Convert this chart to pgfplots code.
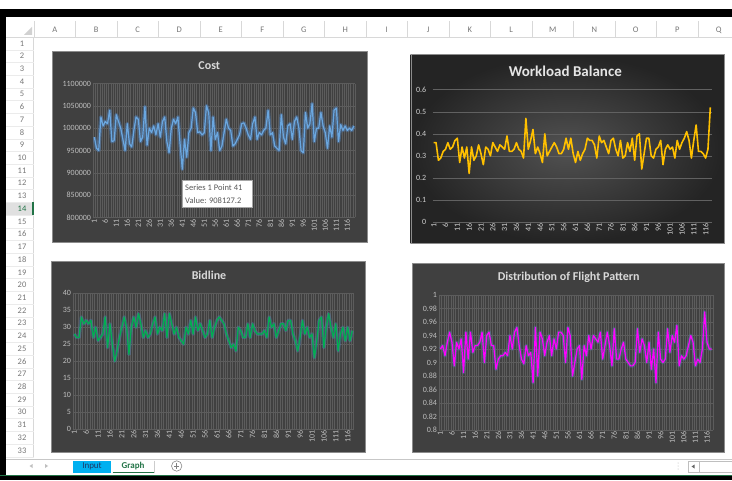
\documentclass[border=0pt]{standalone}
\usepackage{pgfplots}
\pgfplotsset{compat=1.18}
\usepackage{pgfplotstable}
\usepackage{fontspec}
\setmainfont{Carlito}
\definecolor{chartbg}{HTML}{404040}
\definecolor{gridc}{HTML}{5C5C5C}
\definecolor{tickc}{HTML}{BFBFBF}
\definecolor{titlec}{HTML}{D9D9D9}
\definecolor{costc}{HTML}{6AA7E0}
\definecolor{workc}{HTML}{FFC000}
\definecolor{bidc}{HTML}{00B050}
\definecolor{distc}{HTML}{FF00FF}
\definecolor{glowc}{HTML}{4F86C6}
\definecolor{hdrtext}{HTML}{777777}
\definecolor{hdrline}{HTML}{D8D8D8}
\definecolor{xlgreen}{HTML}{217346}
\definecolor{tabcyan}{HTML}{00B0F0}
\definecolor{navy}{HTML}{1F3864}

\pgfplotstableread[row sep=\\]{v\\
980000\\955000\\950000\\1025000\\1005000\\1015000\\1010000\\1040000\\970000\\972000\\
1030000\\1015000\\1000000\\975000\\950000\\1010000\\965000\\958000\\995000\\1025000\\
1020000\\970000\\980000\\1048000\\962000\\1000000\\990000\\1005000\\985000\\1010000\\
980000\\1015000\\1025000\\970000\\945000\\1000000\\1020000\\1010000\\1025000\\965000\\
908127.2\\975000\\935000\\990000\\1000000\\1045000\\1035000\\990000\\992000\\985000\\
990000\\1050000\\1035000\\950000\\1025000\\975000\\990000\\950000\\960000\\990000\\
1020000\\1000000\\995000\\960000\\965000\\975000\\985000\\1010000\\1012000\\1000000\\
985000\\975000\\1010000\\1025000\\975000\\990000\\985000\\995000\\1000000\\1040000\\
985000\\990000\\960000\\955000\\950000\\1030000\\980000\\965000\\1005000\\1010000\\
975000\\1015000\\1025000\\1000000\\950000\\945000\\1035000\\1000000\\1010000\\1055000\\
970000\\1000000\\1000000\\1035000\\1005000\\990000\\955000\\1005000\\980000\\1040000\\
1045000\\970000\\1008000\\995000\\1005000\\995000\\1000000\\995000\\1005000\\
}\costdata

\pgfplotstableread[row sep=\\]{v\\
0.36\\0.36\\0.28\\0.29\\0.32\\0.33\\0.36\\0.33\\0.34\\0.37\\
0.38\\0.27\\0.34\\0.29\\0.34\\0.22\\0.34\\0.28\\0.30\\0.35\\
0.31\\0.26\\0.34\\0.33\\0.30\\0.36\\0.34\\0.32\\0.35\\0.34\\
0.33\\0.39\\0.32\\0.32\\0.33\\0.36\\0.33\\0.32\\0.29\\0.47\\
0.33\\0.37\\0.42\\0.31\\0.34\\0.31\\0.27\\0.40\\0.30\\0.32\\
0.34\\0.36\\0.34\\0.31\\0.31\\0.33\\0.38\\0.33\\0.38\\0.31\\
0.27\\0.32\\0.28\\0.31\\0.33\\0.38\\0.37\\0.37\\0.35\\0.29\\
0.39\\0.36\\0.37\\0.34\\0.31\\0.37\\0.38\\0.33\\0.30\\0.37\\
0.29\\0.30\\0.36\\0.32\\0.38\\0.28\\0.39\\0.40\\0.24\\0.31\\
0.38\\0.38\\0.30\\0.29\\0.33\\0.34\\0.37\\0.26\\0.33\\0.35\\
0.33\\0.34\\0.29\\0.37\\0.33\\0.36\\0.38\\0.41\\0.37\\0.29\\
0.37\\0.44\\0.32\\0.32\\0.31\\0.29\\0.33\\0.52\\
}\workdata

\pgfplotstableread[row sep=\\]{v\\
28\\27\\27\\33\\31\\32\\31\\32\\27\\30\\
26\\27\\28\\33\\24\\31\\25\\20\\23\\27\\
30\\33\\30\\22\\30\\33\\30\\34\\31\\27\\
29\\27\\28\\31\\33\\28\\30\\29\\34\\27\\
34\\31\\28\\30\\27\\26\\25\\30\\28\\32\\
28\\33\\29\\31\\29\\27\\28\\32\\27\\30\\
32\\33\\32\\31\\28\\26\\24\\25\\23\\30\\
29\\27\\27\\31\\27\\31\\29\\28\\28\\28\\
29\\27\\33\\30\\31\\27\\29\\31\\31\\29\\
32\\32\\28\\26\\23\\27\\32\\28\\30\\27\\
28\\21\\26\\32\\33\\24\\30\\34\\30\\27\\
31\\23\\28\\30\\26\\30\\26\\29\\
}\biddata

\pgfplotstableread[row sep=\\]{v\\
0.92\\0.925\\0.91\\0.93\\0.945\\0.93\\0.895\\0.93\\0.92\\0.935\\
0.885\\0.945\\0.905\\0.945\\0.915\\0.925\\0.925\\0.93\\0.945\\0.90\\
0.94\\0.945\\0.925\\0.925\\0.89\\0.905\\0.91\\0.91\\0.915\\0.91\\
0.94\\0.92\\0.945\\0.952\\0.925\\0.905\\0.898\\0.925\\0.91\\0.915\\
0.87\\0.952\\0.88\\0.945\\0.935\\0.91\\0.93\\0.94\\0.91\\0.935\\
0.92\\0.945\\0.945\\0.94\\0.90\\0.952\\0.94\\0.88\\0.90\\0.92\\
0.925\\0.875\\0.925\\0.91\\0.94\\0.92\\0.94\\0.935\\0.93\\0.945\\
0.905\\0.925\\0.945\\0.925\\0.895\\0.95\\0.905\\0.905\\0.92\\0.93\\
0.905\\0.90\\0.895\\0.895\\0.90\\0.95\\0.915\\0.935\\0.925\\0.90\\
0.93\\0.89\\0.92\\0.87\\0.945\\0.905\\0.90\\0.905\\0.95\\0.915\\
0.94\\0.93\\0.955\\0.895\\0.91\\0.905\\0.91\\0.925\\0.94\\0.93\\
0.895\\0.905\\0.90\\0.92\\0.975\\0.93\\0.92\\0.92\\
}\distdata

\pgfplotsset{
  xlchart/.style={
    scale only axis, anchor=south west,
    axis line style={draw=none},
    major tick length=0pt, minor tick length=0pt,
    xmin=0.5,
    xtick={1,6,...,116},
    xticklabel style={rotate=90, anchor=east, font=\fontsize{8}{9}\selectfont, text=tickc, inner sep=1.5pt},
    yticklabel style={font=\fontsize{8}{9}\selectfont, text=tickc, inner sep=2pt},
    /pgf/number format/assume math mode=true,
    ymajorgrids, major grid style={draw=gridc, line width=0.5pt},
  },
  vgrid/.style={minor xtick={0.5,1.5,...,#1}, xminorgrids, minor grid style={draw=gridc, line width=0.3pt}},
}

\begin{document}
\begin{tikzpicture}
\useasboundingbox (0pt,0pt) rectangle (732pt,480pt);
\begin{scope}
\clip (0pt,0pt) rectangle (732pt,480pt);
\begin{scope}[x=1pt,y=1pt]
\fill[white] (0,0) rectangle (732,480);
% frame
\fill[black] (0,463) rectangle (732,471);
\fill[black] (0,0) rectangle (6,471);
\fill[black] (0,0) rectangle (732,4.3);
% column header
\draw[hdrline] (6,443) -- (732,443);
\foreach \k in {0,...,17} \draw[hdrline] ({34+41.5*\k},443) -- ({34+41.5*\k},459);
\foreach \c [count=\i from 0] in {A,B,C,D,E,F,G,H,I,J,K,L,M,N,O,P,Q}
  \node[text=hdrtext, font=\fontsize{8.5}{9}\selectfont] at ({54.75+41.5*\i},450) {\c};
\fill[black!18] (32,453) -- (32,445) -- (24,445) -- cycle;
% row header
\fill[black!12] (6,265) rectangle (33.5,277.7);
\draw[hdrline] (33.5,23) -- (33.5,443);
\foreach \r in {1,...,33} {
  \draw[black!8] (6,{443-12.72*\r}) -- (33.5,{443-12.72*\r});
  \ifnum\r=14
    \node[text=xlgreen, font=\fontsize{8.5}{9}\selectfont] at (22,{480-43.3-(\r-1)*12.72}) {\r};
  \else
    \node[text=hdrtext, font=\fontsize{8.5}{9}\selectfont] at (22,{480-43.3-(\r-1)*12.72}) {\r};
  \fi
}
\draw[xlgreen, line width=1.5pt] (33,265) -- (33,277.7);
% tab bar
\draw[black!22] (6,21.3) -- (732,21.3);
\fill[tabcyan] (72.7,6.7) rectangle (111,19.3);
\node[text=navy, font=\fontsize{9}{10}\selectfont] at (92,13.2) {Input};
\fill[white] (111.7,6.7) rectangle (154,19.3);
\draw[black!20] (154,6.7) -- (154,19.3);
\draw[xlgreen, line width=1.2pt] (112.5,7.3) -- (153.5,7.3);
\node[text=xlgreen, font=\bfseries\fontsize{9}{10}\selectfont] at (133,13.6) {Graph};
\draw[black!45, line width=0.6pt] (176.7,14) circle (5.2);
\draw[black!50, line width=0.6pt] (174,14) -- (179.4,14) (176.7,11.3) -- (176.7,16.7);
\fill[black!25] (29.5,14) -- (32.5,16) -- (32.5,12) -- cycle;
\fill[black!25] (48,14) -- (45,16) -- (45,12) -- cycle;
\fill[black!30] (678,11) circle (0.5) (678,14) circle (0.5) (678,17) circle (0.5);
\draw[black!25] (688,8.3) rectangle (740,18.7);
\draw[black!25] (699,8.3) -- (699,18.7);
\fill[black!60] (691.5,13.5) -- (694.5,15.5) -- (694.5,11.5) -- cycle;
\draw[xlgreen, line width=1pt] (0,4.8) -- (732,4.8);

% ---------- chart backgrounds ----------
\fill[chartbg, draw=black!45, line width=0.6pt] (52,238) rectangle (367,429);
\shade[inner color=black!68, outer color=black!86, draw=black!45] (410.7,236.7) rectangle (724,425.3);
\fill[chartbg, draw=black!45, line width=0.6pt] (51.7,27.3) rectangle (365,218.3);
\fill[chartbg, draw=black!45, line width=0.6pt] (412,27.3) rectangle (724.7,216.7);

% titles
\node[text=titlec, font=\bfseries\fontsize{12}{14}\selectfont] at (209.3,414.3) {Cost};
\node[text=white!90!black, font=\bfseries\fontsize{15}{17}\selectfont] at (565.3,409) {Workload Balance};
\node[text=titlec, font=\bfseries\fontsize{12}{14}\selectfont] at (209,204.3) {Bidline};
\node[text=titlec, font=\bfseries\fontsize{12}{14}\selectfont] at (568.7,202.7) {Distribution of Flight Pattern};
\end{scope}

% ---------- Cost ----------
\begin{axis}[xlchart, vgrid=119.5, at={(93.2pt,262.5pt)}, width=261.8pt, height=134pt,
  xmax=119.5, ymin=800000, ymax=1100000,
  ytick={800000,850000,900000,950000,1000000,1050000,1100000},
  scaled y ticks=false,
  yticklabel style={/pgf/number format/fixed, /pgf/number format/1000 sep={}}]
\addplot[glowc, opacity=0.45, line width=3.8pt, line join=round] table[x expr=\coordindex+1, y=v] {\costdata};
\addplot[costc, line width=1.2pt, line join=round] table[x expr=\coordindex+1, y=v] {\costdata};
\end{axis}

% ---------- Workload ----------
\begin{axis}[xlchart, at={(432.5pt,258pt)}, width=279pt, height=132.3pt,
  xmax=118.5, ymin=0, ymax=0.6,
  ytick={0,0.1,0.2,0.3,0.4,0.5,0.6},
  yticklabel style={/pgf/number format/fixed, /pgf/number format/precision=1, xshift=-4pt, text=white!82!black},
  xticklabel style={text=white!82!black},
  major grid style={draw=black!62, line width=0.5pt}]
\addplot[workc, line width=1.6pt, line join=round] table[x expr=\coordindex+1, y=v] {\workdata};
\end{axis}

% ---------- Bidline ----------
\begin{axis}[xlchart, vgrid=118.5, at={(73.1pt,51pt)}, width=280.5pt, height=135.7pt,
  xmax=118.5, ymin=0, ymax=40,
  ytick={0,5,10,15,20,25,30,35,40}]
\addplot[glowc, opacity=0.35, line width=3.6pt, line join=round] table[x expr=\coordindex+1, y=v] {\biddata};
\addplot[bidc, line width=1.2pt, line join=round] table[x expr=\coordindex+1, y=v] {\biddata};
\end{axis}

% ---------- Distribution ----------
\begin{axis}[xlchart, vgrid=118.5, at={(439.2pt,50pt)}, width=273.6pt, height=135pt,
  xmax=118.5, ymin=0.8, ymax=1,
  ytick={0.8,0.82,0.84,0.86,0.88,0.9,0.92,0.94,0.96,0.98,1},
  yticklabel style={/pgf/number format/fixed, /pgf/number format/precision=2}]
\addplot[glowc, opacity=0.35, line width=3.6pt, line join=round] table[x expr=\coordindex+1, y=v] {\distdata};
\addplot[distc, line width=1.2pt, line join=round] table[x expr=\coordindex+1, y=v] {\distdata};
\end{axis}

% tooltip
\begin{scope}[x=1pt,y=1pt]
\draw[fill=white, draw=black!35, line width=0.5pt] (182.3,272.3) rectangle (252.7,300);
\node[anchor=west, text=black!65, font=\fontsize{8.5}{9}\selectfont, inner sep=0pt] at (185,292.8) {Series 1 Point 41};
\node[anchor=west, text=black!65, font=\fontsize{8.5}{9}\selectfont, inner sep=0pt] at (185,279.5) {Value: 908127.2};
\end{scope}
\end{scope}
\end{tikzpicture}
\end{document}
